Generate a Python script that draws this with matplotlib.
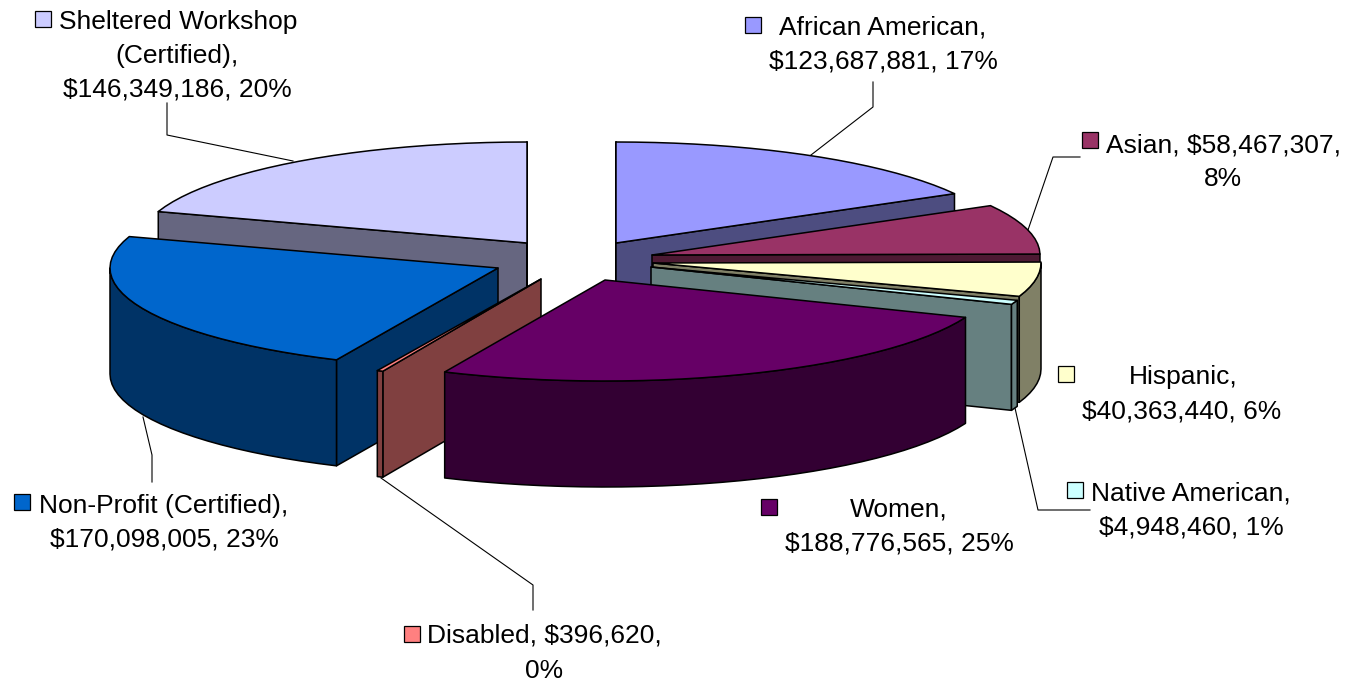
# 3D style exploded pie, drawn by hand since matplotlib has no such pie
import numpy as np
from matplotlib import pyplot as plt
from matplotlib.patches import Polygon, Rectangle

categories = ["African American", "Asian", "Hispanic", "Native American", "Women",
              "Disabled", "Non-Profit (Certified)", "Sheltered Workshop (Certified)"]
amounts = [123687881, 58467307, 40363440, 4948460, 188776565, 396620, 170098005, 146349186]
percents = [17, 8, 6, 1, 25, 0, 23, 20]
colors = ["#9999FF", "#993366", "#FFFFCC", "#CCFFFF", "#660066", "#FF8080", "#0066CC", "#CCCCFF"]

# layout, in pixels of the picture
apex_x = [616, 652, 653, 651, 605, 541, 498, 527]
apex_y = [243, 255, 263, 267, 280, 279, 268, 243]
draw_order = [7, 0, 1, 2, 3, 6, 5, 4]  # back to front
RX = 388
RY = 101
WALL = 106
MIN_SWEEP = 0.9  # very thin slices still get some width
LW = 1.1

key_pos = [(745, 17), (1082, 132), (1058, 366), (1067, 482), (761, 499), (404, 626), (14, 494), (35, 11)]

leaders = [
    ([873, 873, 811], [82, 107, 155]),
    ([1080, 1053, 1028], [157, 157, 230]),
    ([1090, 1038, 1015], [510, 510, 408]),
    ([143, 152, 152], [417, 455, 482]),
    ([381, 533, 533], [478, 585, 610]),
    ([293, 167, 167], [161, 135, 103]),
]


def money(i):
    return "${:,}".format(amounts[i])


def tail(i):
    return "{}, {}%".format(money(i), percents[i])


# every line of a label: text, centre x, centre y
label_lines = [
    ("African American,", 883, 28), (tail(0), 883, 62),
    ("Asian, {},".format(money(1)), 1223, 145), ("8%", 1223, 179),
    ("Hispanic,", 1183, 377), (tail(2), 1182, 411),
    ("Native American,", 1191, 493), (tail(3), 1191, 528),
    ("Women,", 899, 509), (tail(4), 899, 543),
    ("Disabled, {},".format(money(5)), 544, 636), ("0%", 544, 671),
    ("Non-Profit (Certified),", 164, 506), (tail(6), 164, 540),
    ("Sheltered Workshop", 178, 22), ("(Certified),", 177, 56), (tail(7), 177, 90),
]


def rim(cx, cy, angles):
    # angle 0 is 12 o'clock, going clockwise
    t = np.radians(angles)
    return cx + RX * np.sin(t), cy - RY * np.cos(t)


def face(ax, xs, ys, color, z):
    ax.add_patch(Polygon(np.column_stack([xs, ys]), closed=True, facecolor=color,
                         edgecolor="black", linewidth=LW, joinstyle="round", zorder=z))


def shade(hex_color):
    rgb = np.array([int(hex_color[k:k + 2], 16) for k in (1, 3, 5)]) / 255.0
    return tuple(rgb * 0.5)


fig = plt.figure(figsize=(13.45, 6.83), dpi=100)
ax = fig.add_axes([0, 0, 1, 1])
ax.set_xlim(0, 1345)
ax.set_ylim(683, 0)
ax.axis("off")

shares = np.array(amounts) / sum(amounts) * 360.0
ends = np.cumsum(shares)
starts = ends - shares

z = 2
for i in draw_order:
    a0, a1 = starts[i], ends[i]
    if a1 - a0 < MIN_SWEEP:
        mid = (a0 + a1) / 2
        a0, a1 = mid - MIN_SWEEP / 2, mid + MIN_SWEEP / 2
    cx, cy = apex_x[i], apex_y[i]
    dark = shade(colors[i])

    # cut faces turned to the viewer
    if np.sin(np.radians(a0)) <= 1e-6:
        px, py = rim(cx, cy, np.array([a0]))
        face(ax, [cx, px[0], px[0], cx], [cy, py[0], py[0] + WALL, cy + WALL], dark, z)
        z += 1
    if np.sin(np.radians(a1)) >= -1e-6:
        px, py = rim(cx, cy, np.array([a1]))
        face(ax, [cx, px[0], px[0], cx], [cy, py[0], py[0] + WALL, cy + WALL], dark, z)
        z += 1

    # outer wall, only the front half of the rim shows
    w0, w1 = max(a0, 90), min(a1, 270)
    if w1 > w0:
        ang = np.linspace(w0, w1, int((w1 - w0) / 3) + 2)
        px, py = rim(cx, cy, ang)
        face(ax, np.r_[px, px[::-1]], np.r_[py, py[::-1] + WALL], dark, z)
        z += 1

    # top
    ang = np.linspace(a0, a1, int((a1 - a0) / 3) + 2)
    px, py = rim(cx, cy, ang)
    face(ax, np.r_[cx, px], np.r_[cy, py], colors[i], z)
    z += 1

for xs, ys in leaders:
    ax.plot(xs, ys, color="black", lw=0.8, zorder=1)

for i, (kx, ky) in enumerate(key_pos):
    ax.add_patch(Rectangle((kx, ky), 16, 16, facecolor=colors[i], edgecolor="black",
                           linewidth=0.9, zorder=z))

for text, x, y in label_lines:
    ax.text(x, y, text, ha="center", va="center", fontsize=19,
            family=["Liberation Sans", "DejaVu Sans"], color="black", zorder=z)

plt.savefig("out.png", dpi=100)
plt.close("all")
